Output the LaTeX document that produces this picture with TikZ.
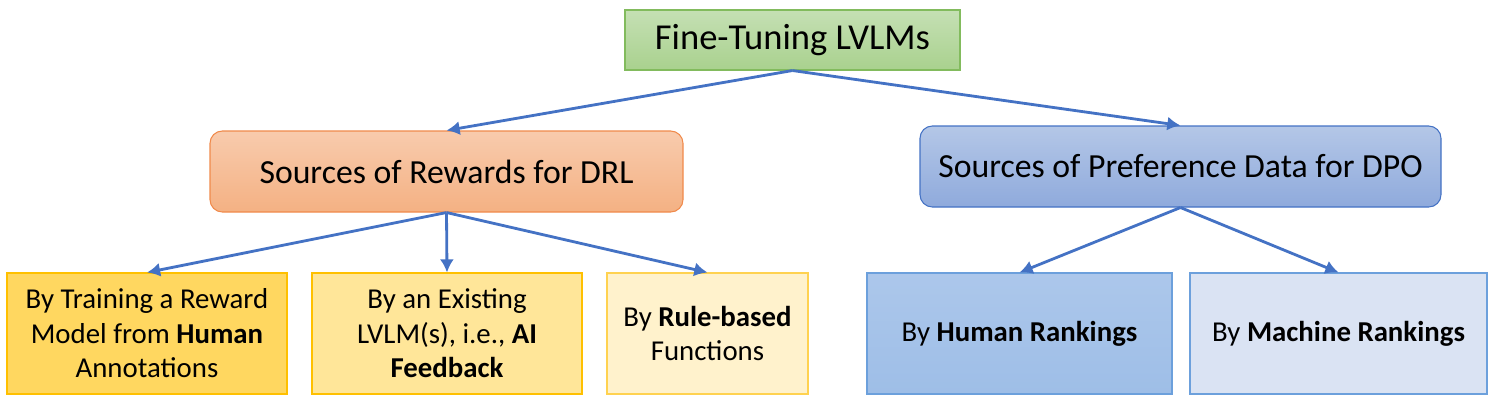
\documentclass[tikz,border=0pt]{standalone}
\usepackage{fontspec}
\setmainfont{Carlito}
\usepackage{tikz}
\usetikzlibrary{arrows.meta, positioning}

\definecolor{arrowblue}{HTML}{4472C4}

\begin{document}
\begin{tikzpicture}[x=0.02cm, y=-0.02cm, >={Latex[length=7.5pt,width=8pt]},
    head/.style={draw, line width=0.6pt, font=\fontsize{19.2}{23}\selectfont, inner sep=0pt},
    leaf/.style={draw, line width=0.6pt, align=center, minimum height=121*0.02cm, inner sep=0pt,
        font=\fontsize{16.4}{19.6}\selectfont},
    link/.style={->, draw=arrowblue, line width=1.6pt}]
    \useasboundingbox (0,0) rectangle (1494,400);

    \node[head, font=\fontsize{20.8}{24}\selectfont, draw={rgb,255:red,130;green,187;blue,93},
          top color={rgb,255:red,197;green,224;blue,180}, bottom color={rgb,255:red,169;green,209;blue,142},
          minimum width=335*0.02cm, minimum height=60*0.02cm] (ft) at (792.5,40) {Fine-Tuning LVLMs};

    \node[head, rounded corners=7pt, draw={rgb,255:red,240;green,138;blue,75}, top color={rgb,255:red,248;green,203;blue,173},
          bottom color={rgb,255:red,244;green,177;blue,131},
          minimum width=473*0.02cm, minimum height=81*0.02cm] (drl) at (446.5,171.5) {Sources of Rewards for DRL};
    \node[head, rounded corners=7pt, draw=arrowblue, top color={rgb,255:red,180;green,199;blue,231},
          bottom color={rgb,255:red,143;green,170;blue,220},
          minimum width=521*0.02cm, minimum height=81*0.02cm] (dpo) at (1180.5,166.5) {Sources of Preference Data for DPO};

    \node[leaf, draw={rgb,255:red,255;green,192;blue,0}, fill={rgb,255:red,255;green,215;blue,96},
          minimum width=280*0.02cm] (human) at (147,333.5) {By Training a Reward\\Model from \textbf{Human}\\Annotations};
    \node[leaf, draw={rgb,255:red,255;green,192;blue,0}, fill={rgb,255:red,255;green,230;blue,153},
          minimum width=270*0.02cm] (aif) at (447,333.5) {By an Existing\\LVLM(s), i.e., \textbf{AI}\\\textbf{Feedback}};
    \node[leaf, draw={rgb,255:red,255;green,210;blue,80}, fill={rgb,255:red,255;green,242;blue,204},
          minimum width=201*0.02cm] (rule) at (707.5,333.5) {By \textbf{Rule-based}\\Functions};

    \node[leaf, draw={rgb,255:red,108;green,160;blue,220}, top color={rgb,255:red,172;green,199;blue,235},
          bottom color={rgb,255:red,158;green,190;blue,231},
          minimum width=305*0.02cm] (hrank) at (1019.5,333.5) {By \textbf{Human Rankings}};
    \node[leaf, draw={rgb,255:red,108;green,160;blue,220}, fill={rgb,255:red,218;green,227;blue,243},
          minimum width=297*0.02cm] (mrank) at (1338.5,333.5) {By \textbf{Machine Rankings}};

    \draw[link] (ft.south) to (drl.north);
    \draw[link] (ft.south) to (dpo.north);

    \draw[link] (drl.south) to (human.north);
    \draw[link] (drl.south) to (aif.north);
    \draw[link] (drl.south) to (rule.north);

    \draw[link] (dpo.south) to (hrank.north);
    \draw[link] (dpo.south) to (mrank.north);
\end{tikzpicture}
\end{document}
